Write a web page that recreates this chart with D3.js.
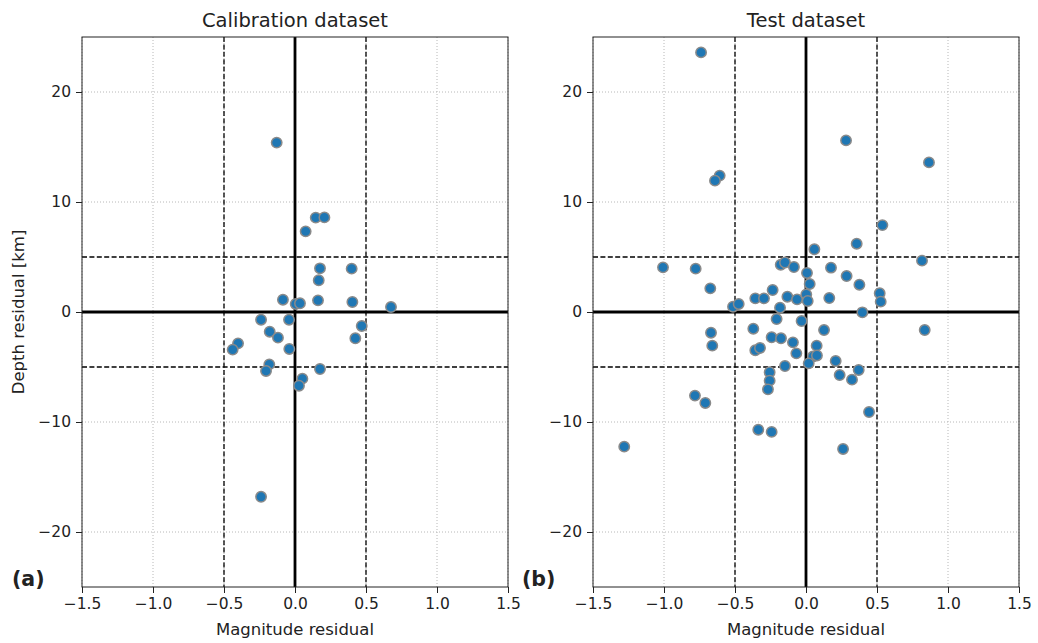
<!DOCTYPE html>
<html>
<head>
<meta charset="utf-8">
<script src="https://cdn.jsdelivr.net/npm/d3@7"></script>
<style>
  html, body { margin: 0; padding: 0; background: #fff; }
  svg { display: block; }
  text { font-family: "DejaVu Sans", sans-serif; fill: #222; }
</style>
</head>
<body>
<svg id="chart" width="1038" height="643"></svg>
<script>
// ---- data ----
const calX = [-0.129, 0.146, 0.207, 0.075, 0.176, 0.399, 0.167, -0.085, 0.005, 0.035, 0.162, 0.404, 0.676,
  -0.239, -0.042, 0.470, -0.178, -0.120, 0.425, -0.401, -0.439, -0.040, -0.181, -0.204, 0.176, 0.052, 0.028, -0.239];
const calY = [15.4, 8.58, 8.6, 7.33, 3.97, 3.94, 2.88, 1.12, 0.73, 0.79, 1.06, 0.91, 0.45,
  -0.7, -0.7, -1.27, -1.79, -2.33, -2.39, -2.85, -3.42, -3.36, -4.76, -5.36, -5.18, -6.06, -6.7, -16.8];

const testX = [-0.739, 0.282, 0.866, -0.608, -0.641, 0.538, 0.357, 0.059, 0.817, -1.007, -0.777, -0.178, -0.148,
  -0.085, 0.176, 0.007, 0.286, -0.674, 0.376, 0.026, -0.235, 0.519, 0.526, -0.357, -0.296, -0.131, -0.063, 0.002,
  0.012, 0.164, -0.514, -0.474, -0.183, 0.397, -0.207, -0.031, -0.371, 0.127, 0.836, -0.669, -0.660, -0.242, -0.176,
  -0.092, -0.357, -0.324, 0.075, -0.068, 0.049, 0.077, 0.209, -0.148, 0.019, -0.256, 0.371, 0.237, -0.256, 0.324,
  -0.268, -0.782, -0.709, 0.444, -0.336, -0.242, -1.280, 0.261];
const testY = [23.6, 15.6, 13.6, 12.4, 11.94, 7.9, 6.21, 5.7, 4.67, 4.06, 3.94, 4.3, 4.5,
  4.09, 4.03, 3.55, 3.27, 2.15, 2.48, 2.55, 2.0, 1.7, 0.94, 1.24, 1.24, 1.39, 1.15, 1.6,
  1.0, 1.27, 0.48, 0.73, 0.39, -0.03, -0.64, -0.82, -1.52, -1.64, -1.64, -1.88, -3.06, -2.3, -2.39,
  -2.76, -3.48, -3.27, -3.06, -3.76, -4.05, -3.95, -4.45, -4.91, -4.67, -5.48, -5.27, -5.73, -6.24, -6.15,
  -7.03, -7.6, -8.27, -9.09, -10.7, -10.9, -12.24, -12.45];

const xTicks = [-1.5, -1.0, -0.5, 0.0, 0.5, 1.0, 1.5];
const yTicks = [-20, -10, 0, 10, 20];
const xDomain = [-1.5, 1.5];
const yDomain = [-25, 25];
const dashedX = [-0.5, 0.5];
const dashedY = [-5, 5];
const titles = ["Calibration dataset", "Test dataset"];
const panelTags = ["(a)", "(b)"];
const xLabel = "Magnitude residual";
const yLabel = "Depth residual [km]";

// ---- layout ----
const svg = d3.select("#chart");
const plotTop = 37, plotBottom = 587;
const panels = [
  { left: 82, right: 508, xs: calX, ys: calY, tagX: 12 },
  { left: 593, right: 1019, xs: testX, ys: testY, tagX: 522 }
];

const y = d3.scaleLinear().domain(yDomain).range([plotBottom, plotTop]);

panels.forEach((p, i) => {
  const x = d3.scaleLinear().domain(xDomain).range([p.left, p.right]);
  const g = svg.append("g");

  // grid
  g.append("g").selectAll("line").data(xTicks).join("line")
    .attr("x1", d => x(d)).attr("x2", d => x(d))
    .attr("y1", plotTop).attr("y2", plotBottom)
    .attr("stroke", "#b0b0b0").attr("stroke-width", 0.9).attr("stroke-dasharray", "1,2");
  g.append("g").selectAll("line").data(yTicks).join("line")
    .attr("y1", d => y(d)).attr("y2", d => y(d))
    .attr("x1", p.left).attr("x2", p.right)
    .attr("stroke", "#b0b0b0").attr("stroke-width", 0.9).attr("stroke-dasharray", "1,2");

  // dashed reference lines
  g.append("g").selectAll("line").data(dashedX).join("line")
    .attr("x1", d => x(d)).attr("x2", d => x(d))
    .attr("y1", plotTop).attr("y2", plotBottom)
    .attr("stroke", "#000").attr("stroke-width", 1.3).attr("stroke-dasharray", "5,2.4");
  g.append("g").selectAll("line").data(dashedY).join("line")
    .attr("y1", d => y(d)).attr("y2", d => y(d))
    .attr("x1", p.left).attr("x2", p.right)
    .attr("stroke", "#000").attr("stroke-width", 1.3).attr("stroke-dasharray", "5,2.4");

  // zero lines
  g.append("line").attr("x1", x(0)).attr("x2", x(0)).attr("y1", plotTop).attr("y2", plotBottom)
    .attr("stroke", "#000").attr("stroke-width", 2.8);
  g.append("line").attr("y1", y(0)).attr("y2", y(0)).attr("x1", p.left).attr("x2", p.right)
    .attr("stroke", "#000").attr("stroke-width", 2.8);

  // points
  g.append("g").selectAll("circle").data(p.xs.map((v, k) => [v, p.ys[k]])).join("circle")
    .attr("cx", d => x(d[0])).attr("cy", d => y(d[1])).attr("r", 5.2)
    .attr("fill", "#1f77b4").attr("stroke", "#8a8a8a").attr("stroke-width", 1.5);

  // frame
  g.append("rect").attr("x", p.left).attr("y", plotTop)
    .attr("width", p.right - p.left).attr("height", plotBottom - plotTop)
    .attr("fill", "none").attr("stroke", "#222").attr("stroke-width", 1);

  // axes
  const xAxis = d3.axisBottom(x).tickValues(xTicks).tickFormat(d3.format(".1f"))
    .tickSizeInner(6).tickSizeOuter(0).tickPadding(5);
  const gx = g.append("g").attr("transform", `translate(0,${plotBottom})`).call(xAxis);
  gx.select(".domain").remove();
  gx.selectAll("line").attr("stroke", "#222");
  gx.selectAll("text").attr("font-size", "15.5px").attr("font-family", "DejaVu Sans").attr("fill", "#222");

  const yAxis = d3.axisLeft(y).tickValues(yTicks).tickFormat(d3.format("d"))
    .tickSizeInner(6).tickSizeOuter(0).tickPadding(5);
  const gy = g.append("g").attr("transform", `translate(${p.left},0)`).call(yAxis);
  gy.select(".domain").remove();
  gy.selectAll("line").attr("stroke", "#222");
  gy.selectAll("text").attr("font-size", "15.5px").attr("font-family", "DejaVu Sans").attr("fill", "#222");

  // title
  g.append("text").attr("x", (p.left + p.right) / 2).attr("y", 27)
    .attr("text-anchor", "middle").attr("font-size", "19.5px").text(titles[i]);

  // x label
  g.append("text").attr("x", (p.left + p.right) / 2).attr("y", 635)
    .attr("text-anchor", "middle").attr("font-size", "16.5px").text(xLabel);

  // panel tag
  g.append("text").attr("x", p.tagX).attr("y", 586)
    .attr("font-size", "20.5px").attr("font-weight", "bold").attr("fill", "#000").text(panelTags[i]);
});

// y label (left panel only)
svg.append("text")
  .attr("transform", `translate(24,${y(0)}) rotate(-90)`)
  .attr("text-anchor", "middle").attr("font-size", "16.5px").text(yLabel);
</script>
</body>
</html>
